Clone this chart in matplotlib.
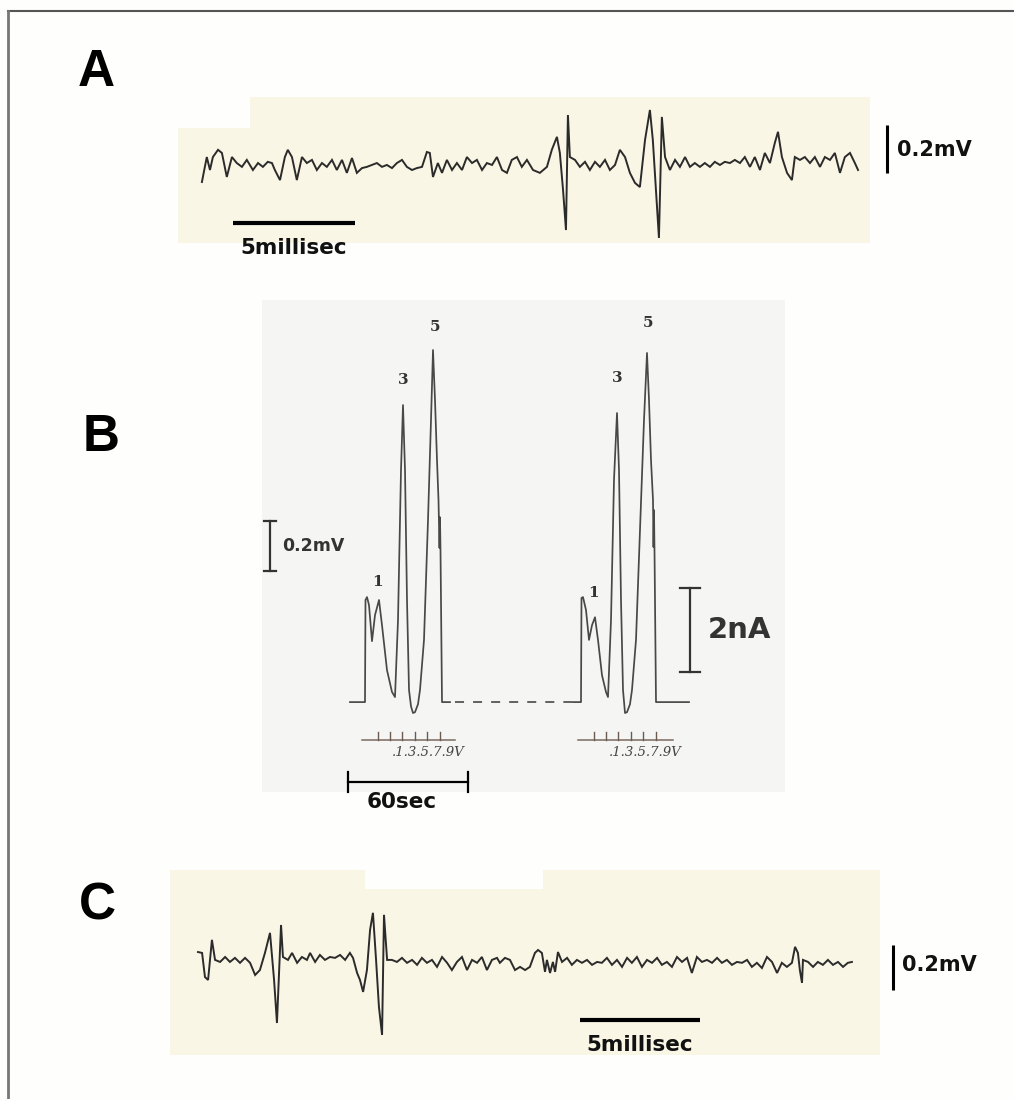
import matplotlib
matplotlib.use("Agg")
import matplotlib.pyplot as plt
from matplotlib.lines import Line2D
from matplotlib.patches import Rectangle

# ---------------- data ----------------
# Panel A : extracellular trace (time in ms, voltage in microvolts)
a_t = [0.00, 0.20, 0.33, 0.45, 0.66, 0.82, 1.02, 1.23, 1.43, 1.64, 1.84, 2.09, 2.30, 2.50,
       2.70, 2.87, 2.99, 3.20, 3.40, 3.52, 3.69, 3.89, 4.10, 4.30, 4.51, 4.71, 4.92, 5.12,
       5.33, 5.53, 5.74, 5.94, 6.15, 6.35, 6.56, 6.76, 6.97, 7.17, 7.38, 7.58, 7.79, 7.99,
       8.20, 8.40, 8.61, 8.81, 9.02, 9.22, 9.34, 9.47, 9.67, 9.84, 10.04, 10.25, 10.45,
       10.66, 10.86, 11.07, 11.27, 11.48, 11.68, 11.89, 12.09, 12.30, 12.50, 12.70, 12.91,
       13.11, 13.32, 13.57, 13.85, 14.14, 14.34, 14.55, 14.67, 14.80, 14.92, 15.00, 15.08,
       15.29, 15.49, 15.70, 15.90, 16.11, 16.31, 16.52, 16.72, 16.93, 17.13, 17.34, 17.54,
       17.75, 17.95, 18.16, 18.36, 18.48, 18.65, 18.73, 18.85, 18.98, 19.18, 19.39, 19.59,
       19.80, 20.00, 20.20, 20.41, 20.61, 20.82, 21.02, 21.23, 21.43, 21.64, 21.84, 22.05,
       22.25, 22.46, 22.66, 22.87, 23.07, 23.28, 23.48, 23.61, 23.77, 23.98, 24.18, 24.30,
       24.51, 24.71, 24.92, 25.12, 25.33, 25.53, 25.74, 25.94, 26.15, 26.35, 26.56, 26.76,
       26.89]
a_uv = [-71, 33, -21, 33, 63, 50, -50, 33, 8, -8, 21, -21, 8, -8,
        13, 8, -21, -63, 33, 63, 33, -63, 33, 8, 21, -21, 8, -8,
        21, -21, 21, -33, 29, -33, -13, -8, 0, 8, -8, 0, -13, 8,
        21, -8, -21, -13, -8, 54, 50, -50, 8, -33, 21, -21, 8,
        -21, 33, 8, 21, -21, 8, 0, 33, -21, -33, 21, 33,
        -8, 21, -21, -33, -8, 63, 117, 50, -104, -271, 208, 33,
        21, -8, 13, -21, 13, -8, 21, -21, 0, 63, 33, -33,
        -75, -92, 104, 229, 104, -175, -304, 200, 33, -21, 21, -8,
        33, -8, 8, -8, 8, -8, 13, 0, 13, 8, 21, 8,
        33, -8, 33, -21, 50, 8, 92, 138, 33, -33, -63, 33,
        21, 33, 8, 33, -8, 33, 21, 50, -33, 33, 50, 8,
        -21]

# Panel B : current responses to voltage steps (time in s, current in nA)
b1_t = [0, 7.5, 7.75, 8.5, 9.5, 11, 12.5, 14.5, 16, 18.5, 21, 22.5, 24, 25.5, 26.5, 27.5,
        28.5, 29.5, 30.5, 31.5, 32.5, 34, 35, 37, 39, 40.5, 41.5, 42.5, 43.5, 44.25, 44.75,
        45, 45.25, 46, 50]
b1_na = [0, 0, 2.43, 2.50, 2.31, 1.45, 2.07, 2.43, 1.83, 0.76, 0.24, 0.12, 1.95, 5.52, 7.07,
         5.52, 2.43, 0.29, -0.10, -0.26, -0.24, -0.05, 0.29, 1.48, 4.33, 6.71, 8.38, 7.19,
         5.76, 4.81, 3.67, 4.40, 3.62, 0, 0]
b2_t = [111.5, 115.5, 115.75, 116.5, 118, 119.5, 121, 122.5, 124, 126, 128, 129, 130.5, 132,
        133.5, 134.5, 135.5, 136.5, 137.5, 138.5, 140, 141, 143, 145, 147, 148.5, 149.5,
        150.5, 151.5, 151.75, 152, 152.25, 153, 169.5]
b2_na = [0, 0, 2.48, 2.50, 2.19, 1.48, 1.83, 2.02, 1.48, 0.64, 0.24, 0.12, 1.95, 5.29, 6.88,
         5.52, 2.43, 0.29, -0.26, -0.24, -0.05, 0.29, 1.48, 4.10, 6.71, 8.31, 7.19, 5.76,
         4.81, 3.69, 4.57, 3.62, 0, 0]
gap_t = [52.5, 111.5]
peak_labels = ["1", "3", "5"]
b1_label_t = [13.5, 26.5, 42.5]
b1_label_na = [2.86, 7.67, 8.93]
b2_label_t = [121.5, 133.5, 149.0]
b2_label_na = [2.60, 7.71, 9.02]
step_ticks_1 = [14, 20, 26, 32.5, 38.5, 45]
step_ticks_2 = [122, 128, 134, 140.5, 146.5, 153]
step_label = ".1.3.5.7.9V"

# Panel C : extracellular trace (time in ms, voltage in microvolts)
c_t = [0.00, 0.17, 0.29, 0.42, 0.58, 0.71, 0.92, 1.13, 1.33, 1.54, 1.75, 1.96, 2.17, 2.38,
       2.58, 2.79, 3.00, 3.17, 3.29, 3.46, 3.54, 3.75, 3.92, 4.13, 4.33, 4.54, 4.67, 4.88,
       5.08, 5.29, 5.50, 5.71, 5.92, 6.13, 6.33, 6.46, 6.63, 6.75, 6.88, 7.04, 7.17, 7.29,
       7.42, 7.54, 7.67, 7.75, 7.88, 8.08, 8.29, 8.50, 8.71, 8.92, 9.13, 9.33, 9.54, 9.75,
       9.96, 10.17, 10.38, 10.58, 10.79, 11.00, 11.21, 11.42, 11.63, 11.83, 12.04, 12.25,
       12.46, 12.58, 12.79, 13.00, 13.21, 13.42, 13.63, 13.83, 14.04, 14.17, 14.33, 14.46,
       14.54, 14.67, 14.79, 14.88, 15.00, 15.17, 15.38, 15.58, 15.79, 16.00, 16.21, 16.42,
       16.63, 16.83, 17.04, 17.25, 17.46, 17.67, 17.88, 18.08, 18.29, 18.50, 18.71, 18.92,
       19.13, 19.33, 19.54, 19.75, 19.96, 20.17, 20.38, 20.58, 20.79, 21.00, 21.21, 21.42,
       21.63, 21.83, 22.04, 22.25, 22.46, 22.67, 22.88, 23.08, 23.29, 23.50, 23.71, 23.92,
       24.13, 24.33, 24.54, 24.75, 24.88, 25.00, 25.08, 25.17, 25.21, 25.42, 25.63, 25.83,
       26.04, 26.25, 26.46, 26.67, 26.88, 27.08, 27.25]
c_uv = [44, 40, -67, -80, 98, 9, 0, 22, 0, 18, -4, 18, -4, -58,
        -36, 40, 129, -80, -271, 164, 22, 9, 40, -4, 22, 9, 40, 0,
        31, 9, 22, 18, 31, 9, 40, 18, -49, -80, -133, -36, 142, 218,
        9, -200, -324, 209, 9, 9, 0, 18, -4, 9, -13, 18, -4, 9,
        -22, 22, -4, -36, 0, 22, -36, 9, -4, 22, -36, 9,
        18, -4, 18, 9, -36, -22, -36, -22, 40, 53, 40, -44,
        9, -49, 0, -44, 44, 0, 18, -13, 9, -4, 9, -13,
        0, -4, 18, -13, 9, -22, 18, -4, 22, -22, 9, -4,
        18, -13, 0, -22, 22, 0, 18, -49, 22, 0, 9, -4,
        18, -4, 9, -13, 0, -4, 9, -22, -4, -27, 22, 0,
        -49, -4, -22, -4, 67, 40, -36, -93, 9, 0, -22, 0,
        -13, 9, -13, 0, -22, -4, 0]

# ---------------- figure ----------------
W, H = 1014, 1099
fig = plt.figure(figsize=(W / 100, H / 100), dpi=100)
fig.patch.set_facecolor("#fefefc")

CREAM = "#faf6e5"
TRACE = "#2b2b2b"


def px_axes(x0, y0, x1, y1, face):
    ax = fig.add_axes([x0 / W, 1 - y1 / H, (x1 - x0) / W, (y1 - y0) / H])
    ax.set_facecolor(face)
    ax.set_xticks([])
    ax.set_yticks([])
    for s in ax.spines.values():
        s.set_visible(False)
    return ax


# frame lines (top and left)
fig.add_artist(Line2D([8 / W, 1], [1 - 11 / H, 1 - 11 / H], color="#555555", lw=1.5,
                      transform=fig.transFigure))
fig.add_artist(Line2D([8 / W, 8 / W], [0, 1 - 11 / H], color="#777777", lw=2,
                      transform=fig.transFigure))

# panel letters
for lab, (x, y) in zip("ABC", [(96, 72), (101, 438), (97, 906)]):
    fig.text(x / W, 1 - y / H, lab, fontsize=37, fontweight="bold",
             family="Liberation Sans", ha="center", va="center", color="black")

bold = dict(family="DejaVu Sans", fontweight="bold", color="#111111")

# ---------------- Panel A ----------------
axA = px_axes(178, 97, 870, 243, CREAM)
axA.set_xlim(-0.98, 27.38)
axA.set_ylim(-325, 283)
axA.add_patch(Rectangle((0, 0.79), 0.104, 0.21, transform=axA.transAxes,
                        facecolor="#fefefc", edgecolor="none"))
axA.plot(a_t, a_uv, color=TRACE, lw=1.4, solid_joinstyle="miter")
axA.plot([1.27, 6.27], [-240, -240], color="black", lw=3, solid_capstyle="butt")
axA.text(3.75, -345, "5millisec", fontsize=15.5, ha="center", va="center", **bold)
axA.plot([28.07, 28.07], [167, -33], color="black", lw=2.2, clip_on=False,
         solid_capstyle="butt")
axA.text(28.48, 63, "0.2mV", fontsize=15, ha="left", va="center", **bold)

# ---------------- Panel B ----------------
axB = px_axes(262, 300, 785, 792, "#f5f5f3")
axB.set_xlim(-44.0, 217.5)
axB.set_ylim(-2.14, 9.571)
BTR = "#484848"
axB.plot(b1_t, b1_na, color=BTR, lw=1.25)
axB.plot(b2_t, b2_na, color=BTR, lw=1.25)
axB.plot(gap_t, [0, 0], color="#555555", lw=1.3, dashes=(5, 5))
for lt, ln, s in zip(b1_label_t, b1_label_na, peak_labels):
    axB.text(lt, ln, s, fontsize=11, family="DejaVu Serif", fontweight="bold",
             ha="center", va="center", color="#333333")
for lt, ln, s in zip(b2_label_t, b2_label_na, peak_labels):
    axB.text(lt, ln, s, fontsize=11, family="DejaVu Serif", fontweight="bold",
             ha="center", va="center", color="#333333")
# voltage-step scales
for ticks, (x0, x1) in [(step_ticks_1, (6, 52.5)), (step_ticks_2, (114, 161.5))]:
    axB.plot([x0, x1], [-0.905, -0.905], color="#7a6a60", lw=1.1)
    for tk in ticks:
        axB.plot([tk, tk], [-0.905, -0.72], color="#6a5a50", lw=1.0)
    axB.text((ticks[0] + x1) / 2 + 6, -1.20, step_label, fontsize=9.5,
             family="DejaVu Serif", style="italic", ha="center", va="center",
             color="#444444")
# 60 sec bar
axB.plot([-1, 59], [-1.905, -1.905], color="black", lw=1.6)
for xx in (-1, 59):
    axB.plot([xx, xx], [-2.14, -1.67], color="black", lw=1.6, clip_on=False)
axB.text(26, -2.38, "60sec", fontsize=15.5, ha="center", va="center", **bold)
# 2 nA bar
axB.plot([170, 170], [0.71, 2.71], color="#333333", lw=1.6)
for yy in (0.71, 2.71):
    axB.plot([165, 175], [yy, yy], color="#333333", lw=1.6)
axB.text(179, 1.71, "2nA", fontsize=21, ha="left", va="center",
         family="DejaVu Sans", fontweight="bold", color="#333333")
# 0.2 mV bar
axB.plot([-40, -40], [3.12, 4.31], color="#333333", lw=1.6)
for yy in (3.12, 4.31):
    axB.plot([-43, -37], [yy, yy], color="#333333", lw=1.6)
axB.text(-34, 3.71, "0.2mV", fontsize=12.5, ha="left", va="center",
         family="DejaVu Sans", fontweight="bold", color="#333333")

# ---------------- Panel C ----------------
axC = px_axes(170, 870, 880, 1055, CREAM)
axC.set_xlim(-1.167, 28.42)
axC.set_ylim(-413, 408)
axC.add_patch(Rectangle((0.275, 0.90), 0.25, 0.10, transform=axC.transAxes,
                        facecolor="#fefefc", edgecolor="none"))
axC.plot(c_t, c_uv, color=TRACE, lw=1.4, solid_joinstyle="miter")
axC.plot([15.92, 20.92], [-258, -258], color="black", lw=3, solid_capstyle="butt")
axC.text(18.42, -369, "5millisec", fontsize=15.5, ha="center", va="center", **bold)
axC.plot([28.96, 28.96], [75, -124], color="black", lw=2.2, clip_on=False,
         solid_capstyle="butt")
axC.text(29.33, -13, "0.2mV", fontsize=15, ha="left", va="center", **bold)

fig.savefig("out.png", dpi=100, facecolor=fig.get_facecolor())
